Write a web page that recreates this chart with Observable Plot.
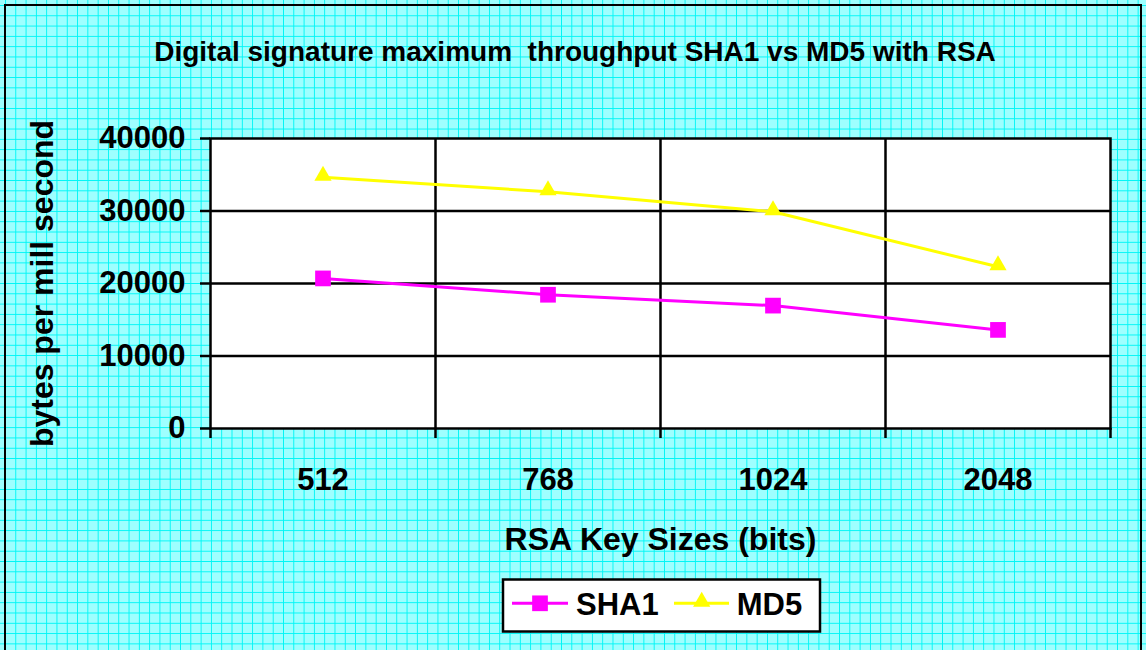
<!DOCTYPE html>
<html>
<head>
<meta charset="utf-8">
<script src="https://cdn.jsdelivr.net/npm/d3@7"></script>
<script src="https://cdn.jsdelivr.net/npm/@observablehq/plot@0.6"></script>
<style>
  html, body { margin: 0; padding: 0; }
  #wrap {
    position: relative; width: 1146px; height: 650px; overflow: hidden;
    background-color: #9effff;
    background-image: linear-gradient(to right, #00f6f6 1px, transparent 1px),
                      linear-gradient(to bottom, #00f6f6 1px, transparent 1px);
    background-size: 10.3px 10.3px;
    background-position: 5px 5px;
    font-family: "Liberation Sans", Arial, sans-serif;
  }
  #border {
    position: absolute; left: 4px; top: 4px; width: 1138px; height: 700px;
    border: 2.5px solid #000; box-sizing: border-box;
  }
  #title {
    position: absolute; left: 0; width: 1150px; top: 38px; text-align: center;
    font-weight: bold; font-size: 28px; line-height: 28px; color: #000; white-space: pre;
  }
  #chart { position: absolute; left: 0; top: 100px; }
  #legend { position: absolute; left: 500px; top: 576px; }
</style>
</head>
<body>
<div id="wrap">
  <div id="border"></div>
  <div id="title"></div>
  <div id="chart"></div>
  <svg id="legend" width="325" height="60"></svg>
</div>
<script>
const titleText = "Digital signature maximum  throughput SHA1 vs MD5 with RSA";
const xTitle = "RSA Key Sizes (bits)";
const yTitle = "bytes per mill second";
const keySizes = ["512", "768", "1024", "2048"];
const seriesNames = ["SHA1", "MD5"];
const sha1 = [20700, 18450, 16950, 13600];
const md5 = [34650, 32650, 29900, 22300];
const yTicks = [0, 10000, 20000, 30000, 40000];
const colors = {SHA1: "#ff00ff", MD5: "#ffff00"};

document.getElementById("title").textContent = titleText;

const rows = [];
keySizes.forEach((k, i) => {
  rows.push({series: "SHA1", idx: i + 0.5, key: k, value: sha1[i]});
  rows.push({series: "MD5", idx: i + 0.5, key: k, value: md5[i]});
});
const boundaries = d3.range(0, keySizes.length + 1);
const centers = keySizes.map((_, i) => i + 0.5);

const font = "'Liberation Sans', Arial, sans-serif";

const chart = Plot.plot({
  width: 1146,
  height: 470,
  marginLeft: 210,
  marginRight: 36,
  marginTop: 38,
  marginBottom: 142,
  style: {background: "transparent", fontFamily: font, overflow: "visible", color: "#000"},
  x: {type: "linear", domain: [0, keySizes.length], axis: null},
  y: {domain: [0, 40000], axis: null},
  marks: [
    Plot.frame({fill: "white", stroke: null}),
    Plot.gridY(yTicks.slice(1, -1), {stroke: "#000", strokeOpacity: 1, strokeWidth: 2.5}),
    Plot.gridX(boundaries.slice(1, -1), {stroke: "#000", strokeOpacity: 1, strokeWidth: 2.5}),
    Plot.frame({stroke: "#000", strokeWidth: 2.5}),
    Plot.axisY(yTicks, {
      tickSize: 10, tickPadding: 15, strokeWidth: 2.5, stroke: "#000",
      fontSize: 31, fontWeight: "bold", label: null, tickFormat: d => String(d)
    }),
    Plot.axisX(boundaries, {
      tickSize: 10, strokeWidth: 2.5, stroke: "#000", tickFormat: () => "", label: null
    }),
    Plot.axisX(centers, {
      tickSize: 0, tickPadding: 39, fontSize: 31, fontWeight: "bold", label: null,
      tickFormat: d => keySizes[Math.round(d - 0.5)]
    }),
    Plot.text([xTitle], {
      frameAnchor: "bottom", dy: 121, lineAnchor: "bottom",
      fontSize: 32, fontWeight: "bold", fill: "#000"
    }),
    Plot.text([yTitle], {
      frameAnchor: "left", dx: -158, rotate: -90, lineAnchor: "bottom", textAnchor: "middle",
      fontSize: 32, fontWeight: "bold", fill: "#000"
    }),
    Plot.line(rows, {x: "idx", y: "value", z: "series", stroke: d => colors[d.series], strokeWidth: 3}),
    Plot.dot(rows.filter(d => d.series === "SHA1"), {
      x: "idx", y: "value", symbol: "square", r: 8.86, fill: colors.SHA1, stroke: null
    }),
    Plot.dot(rows.filter(d => d.series === "MD5"), {
      x: "idx", y: "value", symbol: "triangle", r: 6.4, fill: colors.MD5, stroke: null, dy: -1.5
    })
  ]
});
document.getElementById("chart").appendChild(chart);

// Legend
const leg = d3.select("#legend");
leg.append("rect").attr("x", 3).attr("y", 3.5).attr("width", 317).attr("height", 52)
  .attr("fill", "#fff").attr("stroke", "#000").attr("stroke-width", 2.5);
const items = [
  {name: seriesNames[0], x0: 12, x1: 68, mx: 40, tx: 76, sym: d3.symbolSquare, size: Math.PI * 8.86 * 8.86},
  {name: seriesNames[1], x0: 174, x1: 229, mx: 201.7, tx: 236.7, sym: d3.symbolTriangle, size: Math.PI * 6.4 * 6.4}
];
const ly = 27.3;
items.forEach(it => {
  leg.append("line").attr("x1", it.x0).attr("x2", it.x1).attr("y1", ly).attr("y2", ly)
    .attr("stroke", colors[it.name]).attr("stroke-width", 3);
  leg.append("path").attr("d", d3.symbol(it.sym, it.size)())
    .attr("transform", `translate(${it.mx},${ly - (it.name === "MD5" ? 1.5 : 0)})`)
    .attr("fill", colors[it.name]);
  leg.append("text").attr("x", it.tx).attr("y", 39).text(it.name)
    .attr("font-family", font).attr("font-weight", "bold").attr("font-size", 31).attr("fill", "#000");
});
</script>
</body>
</html>
